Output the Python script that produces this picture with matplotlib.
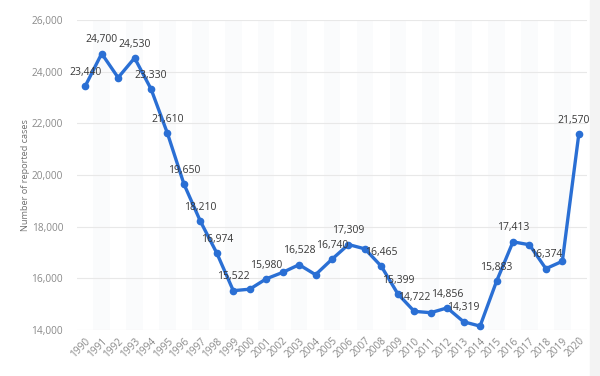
import matplotlib.pyplot as plt
from matplotlib.patches import Rectangle

plt.rcParams['font.family'] = ['Open Sans', 'DejaVu Sans']

years = list(range(1990, 2021))
cases = [23440, 24700, 23770, 24530, 23330, 21610, 19650, 18210, 16974, 15522,
         15580, 15980, 16230, 16528, 16140, 16740, 17309, 17140, 16465, 15399,
         14722, 14670, 14856, 14319, 14150, 15883, 17413, 17300, 16374, 16660,
         21570]
# which points get a value label
labelled = [1990, 1991, 1993, 1994, 1995, 1996, 1997, 1998, 1999, 2001, 2003,
            2005, 2006, 2008, 2009, 2010, 2012, 2013, 2015, 2016, 2018, 2020]
yticks = [14000, 16000, 18000, 20000, 22000, 24000, 26000]

fig = plt.figure(figsize=(6, 3.76), dpi=100)

# light strip on the right edge
fig.patches.append(Rectangle((590 / 600, 0), 10 / 600, 1, transform=fig.transFigure,
                             color='#f3f3f3', zorder=-5))

ax = fig.add_axes([77 / 600, 1 - 330 / 376, 510 / 600, 310 / 376])
ax.patch.set_alpha(0)

x = list(range(len(years)))

# alternating column bands
for i in x:
    if i % 2 == 1:
        ax.axvspan(i - 0.5, i + 0.5, color='#fafbfc', zorder=0, lw=0)

for t in yticks:
    ax.axhline(t, color='#e8e8e8', lw=0.8, zorder=1)

ax.plot(x, cases, color='#2a6fd4', lw=2.4, marker='o', ms=4.5,
        solid_capstyle='round', zorder=3)

for i, (yr, v) in enumerate(zip(years, cases)):
    if yr in labelled:
        dx = -4 if yr == 2020 else 0
        ax.annotate(f'{v:,}', (i, v), xytext=(dx, 6), textcoords='offset points',
                    ha='center', va='bottom', fontsize=7.5, color='#383838',
                    zorder=4, annotation_clip=False)

ax.set_xlim(-0.5, len(years) - 0.5)
ax.set_ylim(14000, 26000)
ax.set_yticks(yticks)
ax.set_yticklabels([f'{t:,}' for t in yticks])
ax.set_xticks(x)
ax.set_xticklabels([str(y) for y in years], rotation=45, ha='right',
                   rotation_mode='anchor')
ax.tick_params(axis='both', length=0, labelsize=7.3, colors='#8a8a8a')
ax.tick_params(axis='y', pad=10)
ax.tick_params(axis='x', pad=4)
for s in ax.spines.values():
    s.set_visible(False)
ax.set_ylabel('Number of reported cases', fontsize=6.6, color='#707070',
              labelpad=1)

fig.savefig('out.png', dpi=100)
